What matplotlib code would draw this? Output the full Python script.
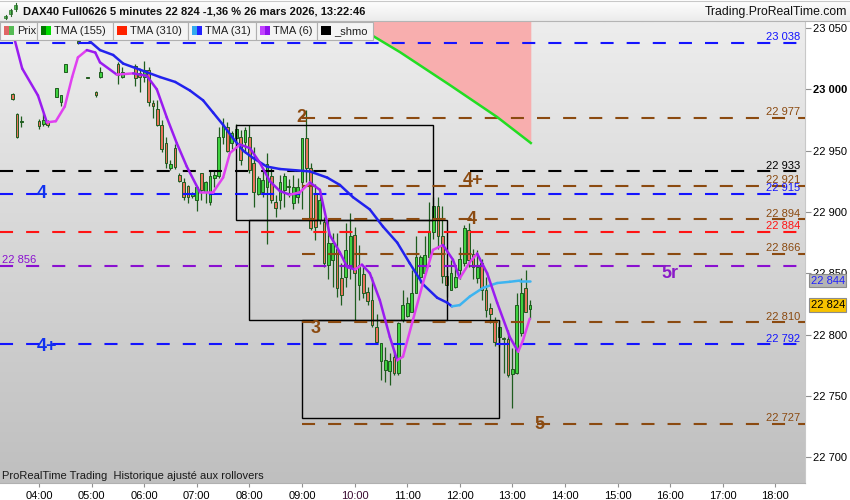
import numpy as np
import matplotlib.pyplot as plt
from matplotlib.collections import LineCollection
from matplotlib.colors import LinearSegmentedColormap
from matplotlib.patches import Rectangle

plt.rcParams['font.family'] = ['Liberation Sans', 'DejaVu Sans']
plt.rcParams['lines.scale_dashes'] = False

# --- bougies 5 minutes ---
bar_time = ['03:30', '03:35', '03:40', '04:00', '04:05', '04:10', '04:20', '04:25',
            '04:30', '04:45', '04:55', '05:05', '05:10', '05:30', '05:35', '05:50',
            '05:55',
            '06:00', '06:05', '06:10', '06:15', '06:20', '06:25', '06:30', '06:35',
            '06:40', '06:45', '06:50', '06:55', '07:00', '07:05', '07:10', '07:15',
            '07:20', '07:25', '07:30', '07:35', '07:40', '07:45', '07:50', '07:55',
            '08:00', '08:05', '08:10', '08:15', '08:20', '08:25', '08:30', '08:35',
            '08:40', '08:45', '08:50', '08:55', '09:00', '09:05', '09:10', '09:15',
            '09:20', '09:25', '09:30', '09:35', '09:40', '09:45', '09:50', '09:55',
            '10:00', '10:05', '10:10', '10:15', '10:20', '10:25', '10:30', '10:35',
            '10:40', '10:45', '10:50', '10:55', '11:00', '11:05', '11:10', '11:15',
            '11:20', '11:25', '11:30', '11:35', '11:40', '11:45', '11:50', '11:55',
            '12:00', '12:05', '12:10', '12:15', '12:20', '12:25', '12:30', '12:35',
            '12:40', '12:45', '12:50', '12:55', '13:00', '13:05', '13:10', '13:15',
            '13:20']
bar_open = [22996, 22980, 22973, 22974, 22972, 22973, 22994, 22990,
            23014, 23039, 23010, 22998, 23010, 23021, 23010, 23019,
            23013,
            23010, 23016, 22989, 22984, 22971, 22956, 22936, 22952,
            22930, 22924, 22921, 22913, 22910, 22932, 22916, 22908,
            22928, 22929, 22961, 22969, 22956, 22960, 22961, 22957,
            22961, 22940, 22915, 22916, 22920, 22929, 22908, 22910,
            22918, 22921, 22907, 22912, 22924, 22960, 22936, 22915,
            22893, 22892, 22857, 22861, 22870, 22846, 22847, 22855,
            22881, 22840, 22849, 22835, 22828, 22806, 22778, 22771,
            22770, 22782, 22769, 22812, 22815, 22818, 22834, 22847,
            22850, 22863, 22884, 22905, 22880, 22848, 22836, 22839,
            22853, 22858, 22885, 22866, 22846, 22858, 22836, 22822,
            22810, 22798, 22797, 22796, 22768, 22769, 22801, 22838,
            22821]
bar_high = [22997, 22981, 22978, 22976, 22981, 22975, 23001, 22995,
            23021, 23041, 23010, 22999, 23018, 23022, 23018, 23021,
            23016,
            23023, 23018, 22991, 22991, 22975, 22961, 22942, 22955,
            22932, 22928, 22922, 22916, 22921, 22932, 22925, 22934,
            22934, 22969, 22977, 22973, 22966, 22972, 22967, 22969,
            22971, 22953, 22929, 22934, 22948, 22936, 22914, 22930,
            22932, 22927, 22930, 22928, 22960, 22983, 22940, 22923,
            22918, 22896, 22893, 22883, 22883, 22858, 22891, 22899,
            22888, 22873, 22855, 22839, 22847, 22817, 22793, 22790,
            22785, 22787, 22810, 22836, 22831, 22853, 22880, 22865,
            22880, 22908, 22912, 22912, 22905, 22853, 22861, 22855,
            22871, 22889, 22891, 22870, 22869, 22862, 22847, 22826,
            22814, 22812, 22798, 22804, 22789, 22834, 22846, 22853,
            22828]
bar_low = [22991, 22960, 22969, 22968, 22970, 22969, 22994, 22986,
           23014, 23037, 23009, 22994, 23009, 23004, 23009, 23003,
           22998,
           23006, 22986, 22977, 22970, 22949, 22936, 22934, 22935,
           22924, 22910, 22907, 22911, 22901, 22910, 22907, 22906,
           22920, 22928, 22955, 22949, 22951, 22955, 22938, 22948,
           22932, 22904, 22914, 22912, 22874, 22907, 22896, 22902,
           22904, 22912, 22902, 22907, 22902, 22924, 22885, 22877,
           22890, 22855, 22845, 22839, 22831, 22824, 22839, 22845,
           22812, 22828, 22830, 22824, 22806, 22793, 22763, 22761,
           22759, 22767, 22767, 22810, 22814, 22818, 22834, 22842,
           22850, 22861, 22878, 22870, 22842, 22831, 22836, 22838,
           22845, 22856, 22855, 22845, 22842, 22828, 22814, 22809,
           22791, 22790, 22769, 22765, 22740, 22768, 22799, 22818,
           22813]
bar_close = [22992, 22961, 22973, 22970, 22975, 22971, 23001, 22995,
             23021, 23038, 23009, 22995, 23014, 23012, 23014, 23009,
             23010,
             23016, 22990, 22986, 22971, 22951, 22940, 22939, 22937,
             22925, 22912, 22912, 22915, 22920, 22918, 22924, 22929,
             22930, 22961, 22970, 22950, 22964, 22968, 22942, 22967,
             22934, 22916, 22928, 22926, 22939, 22910, 22903, 22924,
             22929, 22920, 22920, 22920, 22960, 22936, 22887, 22888,
             22910, 22858, 22875, 22875, 22838, 22832, 22869, 22880,
             22850, 22857, 22834, 22827, 22808, 22794, 22793, 22779,
             22778, 22769, 22809, 22824, 22826, 22834, 22863, 22863,
             22865, 22884, 22905, 22880, 22848, 22840, 22850, 22847,
             22862, 22887, 22861, 22855, 22855, 22836, 22820, 22817,
             22794, 22806, 22796, 22767, 22772, 22824, 22834, 22818,
             22824]

# --- moyennes mobiles (heure décimale, prix) ---
tma31_t = [4.74, 4.97, 5.16, 5.41, 5.60, 5.92, 6.30, 6.59, 6.87, 7.12, 7.31, 7.50,
           7.69, 7.88, 8.07, 8.33, 8.58, 8.87, 9.15, 9.48, 9.72, 9.97, 10.29, 10.54,
           10.81, 11.05, 11.30, 11.57, 11.76, 11.85, 12.00, 12.19, 12.44, 12.71,
           12.95, 13.14, 13.33]
tma31_p = [23059, 23039, 23032, 23028, 23021, 23016, 23010, 23006, 22999, 22991,
           22981, 22971, 22960, 22950, 22944, 22937, 22935, 22934, 22933, 22928,
           22922, 22912, 22902, 22888, 22875, 22858, 22841, 22830, 22826, 22823,
           22824, 22831, 22838, 22842, 22843, 22844, 22844]

tma6_t = [3.49, 3.54, 3.68, 3.98, 4.15, 4.32, 4.49, 4.63, 4.74, 4.91, 5.07, 5.16,
          5.48, 5.79, 6.05, 6.24, 6.43, 6.62, 6.81, 7.06, 7.31, 7.50, 7.63, 7.82,
          8.01, 8.20, 8.39, 8.58, 8.77, 8.96, 9.15, 9.34, 9.53, 9.72, 9.86, 10.01,
          10.14, 10.29, 10.48, 10.67, 10.81, 10.92, 11.11, 11.30, 11.49, 11.68,
          11.87, 12.00, 12.19, 12.33, 12.52, 12.71, 12.95, 13.11, 13.20, 13.33]
tma6_p = [23061, 23040, 23017, 22995, 22973, 22974, 22986, 23010, 23026, 23032,
          23030, 23022, 23012, 23013, 23011, 23000, 22977, 22956, 22937, 22916,
          22916, 22928, 22948, 22955, 22952, 22940, 22925, 22917, 22914, 22916,
          22924, 22918, 22881, 22867, 22855, 22853, 22857, 22850, 22828, 22798,
          22779, 22782, 22812, 22842, 22869, 22873, 22861, 22846, 22859, 22866,
          22850, 22826, 22798, 22786, 22795, 22813]

tma155_t = [10.35, 10.86, 11.81, 12.71, 13.35]
tma155_p = [23043.5, 23030.4, 23003.5, 22977.4, 22956.2]

# --- niveaux horizontaux ---
full_levels = [23038, 22933, 22915, 22884, 22856, 22792]
full_colors = ['#1414ff', '#000000', '#1414ff', '#ff1414', '#8a10d0', '#1414ff']
full_labels = ['23 038', '22 933', '22 915', '22 884', None, '22 792']
brown_levels = [22977, 22921, 22894, 22866, 22810, 22727]
brown_start = 9.0

# rectangles : début, fin, bas, haut
box_t0 = [7.75, 8.0, 9.0]
box_t1 = [11.5, 11.75, 12.75]
box_lo = [22893, 22812, 22732]
box_hi = [22971, 22893, 22812]

# annotations
note_text = ['2', '4+', '4', '3', '5', '5r', '4', '4+']
note_t = [8.98, 12.25, 12.23, 9.25, 13.51, 16.0, 4.06, 4.15]
note_p = [22977, 22926, 22894, 22805, 22727, 22850, 22915, 22790]
note_color = ['#8b4a10'] * 5 + ['#8a1ac8', '#1030f0', '#1030f0']

last_price = 22824
x_hours = list(range(4, 19))
y_ticks = list(range(22700, 23051, 50))

BROWN = '#8b4a10'
DASH = (0, (9.4, 9.4))
X0, X1 = 3.2586, 18.563
Y0, Y1 = 22678.9, 23054.9


def hours(s):
    h, m = s.split(':')
    return int(h) + int(m) / 60


def fmt(v):
    return f"{v:,}".replace(',', ' ')


def colored_line(ax, t, p, up, down, lw):
    pts = np.column_stack([t, p])
    segs = np.stack([pts[:-1], pts[1:]], axis=1)
    cols = [up if b >= a else down for a, b in zip(p[:-1], p[1:])]
    ax.add_collection(LineCollection(segs, colors=cols, linewidths=lw,
                                     capstyle='round', joinstyle='round', zorder=6))


fig = plt.figure(figsize=(8.5, 5), dpi=100)
ax = fig.add_axes([0, 17 / 500, 805 / 850, 461 / 500])

# fond dégradé
grad = LinearSegmentedColormap.from_list('bg', ['#bfbfbf', '#ededed'])
ax.imshow(np.linspace(0, 1, 256)[:, None], extent=(X0, X1, Y0, Y1), origin='lower',
          cmap=grad, aspect='auto', zorder=0)

# zone rose au-dessus de la TMA 155
ax.fill_between(tma155_t, tma155_p, Y1 + 10, color='#f8aeae', lw=0, zorder=1)

# bougies
bt = np.array([hours(s) for s in bar_time])
o = np.array(bar_open, float)
c = np.array(bar_close, float)
up = c >= o
ax.vlines(bt, bar_low, bar_high, color='#1f5c1f', lw=0.9, zorder=2)
bottoms = np.minimum(o, c)
heights = np.maximum(np.abs(c - o), 0.8)
ax.bar(bt, heights, bottom=bottoms, width=0.052,
       color=np.where(up, '#3fd13f', '#e8735c'), edgecolor='#1f5c1f', lw=0.7, zorder=3)

# rectangles noirs
for t0, t1, lo, hi in zip(box_t0, box_t1, box_lo, box_hi):
    ax.add_patch(Rectangle((t0, lo), t1 - t0, hi - lo, fill=False, ec='black', lw=1.0, zorder=4))

# niveaux pointillés
for lv, col, lab in zip(full_levels, full_colors, full_labels):
    ax.plot([X0, X1], [lv, lv], color=col, lw=1.5, ls=DASH, zorder=5)
    if lab:
        ax.annotate(lab, xy=(0.994, lv), xycoords=('axes fraction', 'data'),
                    xytext=(0, 0.5), textcoords='offset points', ha='right', va='bottom',
                    color=col, fontsize=8, zorder=7)
for lv in brown_levels:
    ax.plot([brown_start, X1], [lv, lv], color=BROWN, lw=1.5, ls=DASH, zorder=5)
    ax.annotate(fmt(lv), xy=(0.994, lv), xycoords=('axes fraction', 'data'),
                xytext=(0, 0.5), textcoords='offset points', ha='right', va='bottom',
                color=BROWN, fontsize=8, zorder=7)
ax.annotate('22 856', xy=(0.0025, 22856), xycoords=('axes fraction', 'data'),
            xytext=(0, 0.5), textcoords='offset points', ha='left', va='bottom',
            color='#8a10d0', fontsize=8, zorder=7)

# moyennes mobiles
ax.plot(tma155_t, tma155_p, color='#22dd22', lw=1.8, zorder=6)
colored_line(ax, tma31_t, tma31_p, '#3db4f0', '#2222ee', 1.8)
colored_line(ax, tma6_t, tma6_p, '#e040f0', '#9a1cf0', 1.8)

for txt, t, p, col in zip(note_text, note_t, note_p, note_color):
    ax.text(t, p, txt, color=col, fontsize=13, fontweight='bold', ha='center', va='center', zorder=8)

ax.text(0.003, 0.016, 'ProRealTime Trading  Historique ajusté aux rollovers', transform=ax.transAxes,
        fontsize=8, color='#1a1a1a', va='center', ha='left', zorder=8)

# axes
ax.set_xlim(X0, X1)
ax.set_ylim(Y0, Y1)
ax.yaxis.tick_right()
ax.set_yticks(y_ticks)
ax.set_yticklabels([fmt(v) for v in y_ticks], fontsize=8)
for lbl in ax.get_yticklabels():
    if lbl.get_text() == '23 000':
        lbl.set_fontweight('bold')
ax.set_xticks(x_hours)
ax.set_xticklabels([f"{h:02d}:00" for h in x_hours], fontsize=8)
for lbl in ax.get_xticklabels():
    if lbl.get_text() == '10:00':
        lbl.set_color('#3a0a30')
ax.tick_params(axis='y', length=4, color='#909090', pad=2)
ax.tick_params(axis='x', length=3, color='#909090', pad=3)
for side in ['top', 'left']:
    ax.spines[side].set_visible(False)
ax.spines['right'].set_color('#c8c8c8')
ax.spines['bottom'].set_color('#b0b0b0')

# étiquettes de prix sur l'axe
ax.annotate('22 844', xy=(1, tma31_p[-1]), xycoords=('axes fraction', 'data'), xytext=(4, 0),
            textcoords='offset points', va='center', ha='left', color='#2020ff', fontsize=8,
            bbox=dict(boxstyle='square,pad=0.15', fc='#b4b4b4', ec='#8c8c8c', lw=0.8),
            annotation_clip=False, zorder=9)
ax.annotate(fmt(last_price), xy=(1, last_price), xycoords=('axes fraction', 'data'), xytext=(4, 0),
            textcoords='offset points', va='center', ha='left', color='black', fontsize=8,
            bbox=dict(boxstyle='square,pad=0.15', fc='#f7c300', ec='#8c8c8c', lw=0.8),
            annotation_clip=False, zorder=9)

# --- en-tête et légende (coordonnées pixels) ---
ov = fig.add_axes([0, 0, 1, 1], zorder=10)
ov.patch.set_alpha(0)
hdr = LinearSegmentedColormap.from_list('hdr', ['#ffffff', '#ebebeb'])
ov.imshow(np.linspace(0, 1, 50)[:, None], extent=(0, 850, 21, 0), cmap=hdr, aspect='auto')
ov.plot([0, 850], [21, 21], color='#b4b4b4', lw=0.8)
ov.plot([0, 850], [0.5, 0.5], color='#c8c8c8', lw=0.8)

# petite icône de bougies
for cx, lo_, hi_, b0, b1 in [(6, 15, 19, 16, 18), (11, 9, 16, 10, 14), (16, 3, 11, 5, 9)]:
    ov.plot([cx, cx], [lo_, hi_], color='#2a6a2a', lw=0.8)
    ov.add_patch(Rectangle((cx - 1.5, b0), 3, b1 - b0, fc='#55cc55', ec='#2a6a2a', lw=0.5))
ov.text(23, 11, 'DAX40 Full0626 5 minutes 22 824 -1,36 % 26 mars 2026, 13:22:46',
        fontsize=8, fontweight='bold', va='center', ha='left', color='#101010')
ov.text(847, 12, 'Trading.ProRealTime.com', fontsize=8.8, va='center', ha='right', color='#101010')

legend_names = ['Prix', 'TMA (155)', 'TMA (310)', 'TMA (31)', 'TMA (6)', '_shmo']
legend_icon = [('#e06666', '#55bb55'), ('#007a00', '#00dd00'), ('#ff2200', '#ff2200'),
               ('#33aaee', '#2222ff'), ('#c040ff', '#9010ee'), ('#000000', '#000000')]
edges = [0, 37, 113, 188, 256, 317, 373]
for i, name in enumerate(legend_names):
    l, r = edges[i], edges[i + 1]
    ov.add_patch(Rectangle((l, 21.5), r - l, 18, fc='#f4f4f4', ec='#b0b0b0', lw=0.8))
    c1, c2 = legend_icon[i]
    ov.add_patch(Rectangle((l + 4, 26), 5, 9, fc=c1, ec='none'))
    ov.add_patch(Rectangle((l + 9, 26), 5, 9, fc=c2, ec='none'))
    ov.text(l + 17, 31, name, fontsize=8, va='center', ha='left', color='#202020')

ov.set_xlim(0, 850)
ov.set_ylim(500, 0)
ov.axis('off')

fig.savefig('out.png', dpi=100)
